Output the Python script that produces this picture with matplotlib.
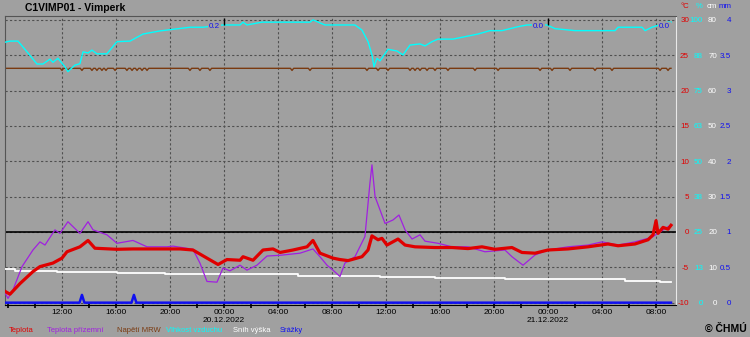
import matplotlib.pyplot as plt

plt.rcParams['font.family'] = ['Liberation Sans', 'DejaVu Sans']

# time = hours since 19.12.2022 00:00
t_temp = [7.78, 8.15, 8.89, 9.85, 10.37, 11.33, 12.0, 12.37, 13.33, 13.93, 14.44, 16.07,
          17.26, 18.74, 20.74, 21.7, 22.74, 23.56, 24.22, 25.19, 25.41, 26.15, 26.89,
          27.63, 28.15, 29.11, 30.15, 30.59, 31.11, 32.07, 32.59, 33.19, 34.22, 34.67,
          34.96, 35.41, 35.7, 36.07, 36.89, 37.41, 38.15, 39.63, 40.89, 42.07, 43.11,
          44.07, 45.33, 46.07, 47.04, 48.0, 49.48, 50.96, 52.44, 53.19, 54.44, 55.41,
          55.78, 56.0, 56.15, 56.52, 56.89, 57.11]
teplota = [-8.4, -8.8, -7.3, -5.6, -4.9, -4.4, -3.7, -2.8, -2.1, -1.2, -2.3, -2.45,
           -2.4, -2.4, -2.4, -2.55, -3.7, -4.6, -3.9, -4.0, -3.5, -4.0, -2.55,
           -2.4, -2.9, -2.55, -2.1, -1.2, -3.0, -3.7, -3.9, -4.05, -3.5, -2.55,
           -0.55, -1.1, -0.9, -1.85, -1.0, -1.85, -2.1, -2.2, -2.2, -2.35, -2.1,
           -2.45, -2.2, -2.9, -3.0, -2.55, -2.4, -2.1, -1.7, -1.95, -1.7, -1.1,
           -0.4, 1.6, -0.2, 0.65, 0.4, 0.95]

t_prizemni = [7.78, 8.0, 8.37, 9.04, 9.85, 10.37, 10.74, 11.48, 11.85, 12.44, 13.33,
              13.93, 14.3, 15.33, 16.07, 17.26, 18.3, 19.78, 20.22, 21.7, 22.22, 22.74,
              23.48, 23.93, 24.44, 25.19, 25.7, 26.44, 27.19, 28.15, 29.63, 30.59,
              31.11, 31.63, 32.07, 32.59, 32.96, 33.7, 34.44, 34.81, 34.96, 35.19,
              35.93, 36.52, 36.96, 37.41, 37.93, 38.52, 38.89, 39.85, 40.89, 42.07,
              43.33, 44.81, 45.33, 46.15, 47.04, 48.0, 49.48, 50.96, 52.0, 53.19,
              54.44, 55.7, 56.89, 57.11]
teplota_prizemni = [-8.6, -9.4, -8.2, -4.9, -2.55, -1.4, -1.85, 0.3, -0.2, 1.45, -0.2,
                    1.45, 0.3, -0.4, -1.6, -1.2, -2.1, -2.1, -2.0, -2.45, -4.4, -7.0,
                    -7.1, -5.1, -5.5, -4.7, -5.4, -4.7, -3.4, -3.3, -3.0, -2.4,
                    -3.5, -4.7, -5.4, -6.3, -4.4, -3.5, -0.65, 6.9, 9.5, 5.0,
                    1.2, 1.7, 2.4, 0.3, -1.0, -0.4, -1.3, -1.6, -2.1, -2.1,
                    -2.8, -2.55, -3.5, -4.7, -3.25, -2.55, -2.1, -1.85, -1.4, -1.85,
                    -1.4, -0.75, 0.75, 0.9]

t_vlhkost = [7.78, 8.15, 8.74, 9.41, 10.15, 10.59, 11.11, 11.33, 11.7, 12.22, 12.44,
             12.96, 13.33, 13.56, 13.93, 14.22, 14.59, 15.33, 16.07, 17.04, 18.0, 19.26,
             21.48, 22.44, 23.93, 25.19, 25.41, 25.7, 26.81, 30.37, 30.59, 31.48, 33.7,
             34.22, 34.67, 34.96, 35.11, 35.33, 35.56, 36.15, 36.81, 37.26, 37.78,
             38.52, 38.89, 39.41, 39.85, 40.96, 42.81, 43.7, 44.59, 45.78, 46.44,
             47.93, 48.52, 50.0, 52.96, 53.19, 54.96, 55.19, 55.7, 56.89, 57.11]
vlhkost = [92.1, 92.5, 92.5, 88.7, 84.4, 84.4, 86.1, 85.0, 86.4, 83.4, 81.7,
           84.0, 84.5, 88.7, 88.3, 89.3, 88.0, 88.0, 92.3, 92.5, 95.0, 96.1,
           97.4, 97.4, 98.2, 98.2, 99.2, 98.2, 99.2, 99.2, 100.0, 98.2, 98.2,
           96.4, 92.3, 87.6, 83.4, 86.4, 85.5, 89.6, 89.0, 87.6, 91.1,
           91.5, 90.8, 92.3, 93.2, 93.2, 95.0, 96.2, 96.2, 97.6, 98.2,
           98.2, 96.9, 96.2, 96.2, 97.4, 97.4, 96.2, 97.4, 99.2, 99.2]

t_snih = [7.78, 8.52, 11.63, 16.07, 19.63, 29.48, 35.56, 39.63, 44.81, 48.89, 53.7,
          56.3, 57.11]
snih = [9.4, 9.1, 8.8, 8.5, 8.1, 7.6, 7.3, 7.1, 6.8, 6.6, 6.2, 5.8, 5.8]

t_srazky = [7.78, 13.3, 13.48, 13.66, 17.15, 17.33, 17.51, 57.11]
srazky = [0, 0, 0.11, 0, 0, 0.11, 0, 0]

# MRW voltage (plotted on the degC scale), with the small dips
mrw_level = 23.15
mrw_dips = [12.0, 12.44, 13.48, 14.22, 14.59, 14.96, 15.26, 15.93, 16.81, 17.19,
            17.56, 17.93, 18.3, 21.48, 22.22, 22.96, 29.04, 30.37, 34.59, 35.41,
            36.15, 37.78, 38.15, 38.52, 39.04, 39.63, 40.59, 42.59, 44.3, 47.41,
            48.3, 49.63, 51.48, 52.74, 56.3, 56.89]

denni_srazky = ['0.2', '0.0', '0.0']
t_denni = [23.7, 47.7, 57.04]

t_ticks = [12, 16, 20, 24, 28, 32, 36, 40, 44, 48, 52, 56]
t_labels = ['12:00', '16:00', '20:00', '00:00\n20.12.2022', '04:00', '08:00',
            '12:00', '16:00', '20:00', '00:00\n21.12.2022', '04:00', '08:00']
c_ticks = [-10, -5, 0, 5, 10, 15, 20, 25, 30]
h_ticks = [0, 12.5, 25, 37.5, 50, 62.5, 75, 87.5, 100]
h_labels = ['0', '13', '25', '38', '50', '63', '75', '88', '100']
s_ticks = [0, 10, 20, 30, 40, 50, 60, 70, 80]
p_ticks = [0, 0.5, 1, 1.5, 2, 2.5, 3, 3.5, 4]
p_labels = ['0', '0.5', '1', '1.5', '2', '2.5', '3', '3.5', '4']

bg = '#a0a0a0'
red = '#e00000'
purple = '#a020e0'
brown = '#7a3a10'
cyan = '#00ffff'
blue = '#1010f0'

mrw_t = [t_temp[0]]
mrw_v = [mrw_level]
for d in mrw_dips:
    mrw_t += [d - 0.12, d, d + 0.12]
    mrw_v += [mrw_level, mrw_level - 0.3, mrw_level]
mrw_t.append(t_temp[-1])
mrw_v.append(mrw_level)

fig = plt.figure(figsize=(7.5, 3.37), dpi=100, facecolor=bg)
ax = fig.add_axes([5 / 750, 32 / 337, 671 / 750, 289 / 337])
ax.set_facecolor(bg)
ax.set_xlim(7.78, 57.48)
ax.set_ylim(-10.33, 30.55)

ax.set_xticks(t_ticks, t_labels)
ax.set_xticks(range(8, 57, 2), minor=True)
ax.tick_params(axis='x', which='both', direction='inout', length=4, width=1.2,
               color='black', labelsize=6, pad=1)
ax.set_yticks(c_ticks)
ax.grid(axis='both', which='major', color='#505050', ls=(0, (2, 2)), lw=0.8)
ax.axhline(0, color='black', lw=1.2)
ax.spines['top'].set_color('#555555')
ax.spines['left'].set_color('#555555')
ax.spines['right'].set_color('#e8e8e8')
ax.spines['bottom'].set_color('black')
ax.plot(mrw_t, mrw_v, color=brown, lw=1)

ax_h = ax.twinx()
ax_h.set_ylim(-0.825, 101.375)
ax_h.plot(t_vlhkost, vlhkost, color=cyan, lw=1)

ax_s = ax.twinx()
ax_s.set_ylim(-0.66, 81.1)
ax_s.plot(t_snih, snih, color='white', lw=1.3, drawstyle='steps-post')

ax_p = ax.twinx()
ax_p.set_ylim(-0.033, 4.055)
ax_p.plot(t_srazky, srazky, color=blue, lw=1.8)

ax_t = ax.twinx()
ax_t.set_ylim(-10.33, 30.55)
ax_t.plot(t_prizemni, teplota_prizemni, color=purple, lw=0.9)
ax_t.plot(t_temp, teplota, color=red, lw=2.3)
for txt, tt in zip(denni_srazky, t_denni):
    ax_t.text(tt, 29.1, txt, color=blue, fontsize=5.8, ha='right', va='center',
              bbox=dict(facecolor=bg, edgecolor='none', pad=0.6))
ax_t.vlines([24, 48], 29.3, 30.2, color='black', lw=1)

# twinx puts the main ticks back on the left, switch them off again
ax.tick_params(axis='y', which='both', left=False, right=False,
               labelleft=False, labelright=False)

# right side scales
scales = [(ax_t, c_ticks, [str(v) for v in c_ticks], red, 9.4),
          (ax_h, h_ticks, h_labels, cyan, 19.4),
          (ax_s, s_ticks, [str(v) for v in s_ticks], 'white', 29.5),
          (ax_p, p_ticks, p_labels, blue, 39.6)]
for a, ticks, labels, col, pad in scales:
    a.set_yticks(ticks, labels)
    a.tick_params(axis='y', length=0, pad=pad, labelsize=5.8, labelcolor=col)
    plt.setp(a.get_yticklabels(), ha='right')
    for s in a.spines.values():
        s.set_visible(False)

units = [('°C', red, 689), ('%', cyan, 702), ('cm', 'white', 717), ('mm', blue, 732)]
for txt, col, xr in units:
    fig.text(xr / 750, 1 - 7 / 337, txt, color=col, fontsize=5.6, ha='right', va='center')

fig.text(25 / 750, 1 - 8 / 337, 'C1VIMP01 - Vimperk', fontsize=7.5, fontweight='bold',
         va='center')

legend = [('Teplota', red, 9), ('Teplota přízemní', purple, 47), ('Napětí MRW', brown, 117),
          ('Vlhkost vzduchu', cyan, 166), ('Sníh výška', 'white', 233), ('Srážky', blue, 280)]
for txt, col, xl in legend:
    fig.text(xl / 750, 1 - 330 / 337, txt, color=col, fontsize=5.5, va='center')

fig.text(747 / 750, 1 - 329 / 337, '© ČHMÚ', fontsize=7.5, fontweight='bold',
         ha='right', va='center')

fig.savefig('out.png', dpi=100, facecolor=bg)
